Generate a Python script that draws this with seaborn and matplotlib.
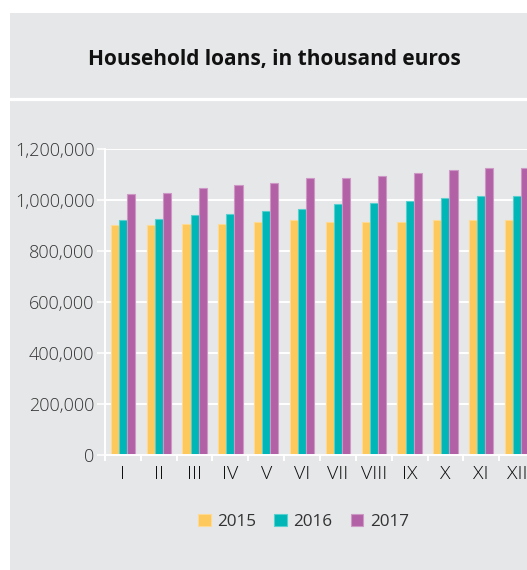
import matplotlib
matplotlib.use("Agg")
import matplotlib.pyplot as plt
import matplotlib.ticker as mticker
from matplotlib.patches import Rectangle
from matplotlib.lines import Line2D
import matplotlib.colors as mcolors
import numpy as np
import pandas as pd
import seaborn as sns

# Monthly household loans (thousand euros)
months = ["I", "II", "III", "IV", "V", "VI", "VII", "VIII", "IX", "X", "XI", "XII"]
years = ["2015", "2016", "2017"]
loans_2015 = [901000, 901000, 907000, 907000, 914000, 920000, 914000, 914000, 914000, 920000, 920000, 920000]
loans_2016 = [920000, 927000, 940000, 945000, 958000, 965000, 984000, 989000, 996000, 1009000, 1015000, 1015000]
loans_2017 = [1022000, 1029000, 1047000, 1060000, 1065000, 1085000, 1085000, 1093000, 1105000, 1118000, 1124000, 1124000]
colors = ["#FDC85C", "#00B6B6", "#B261A6"]
title = "Household loans, in thousand euros"

df = pd.DataFrame({
    "month": months * 3,
    "year": [years[0]] * 12 + [years[1]] * 12 + [years[2]] * 12,
    "value": loans_2015 + loans_2016 + loans_2017,
})

W, H = 527, 570
bg = "#E6E7E9"
sns.set_theme(style="white")
plt.rcParams["font.family"] = ["Open Sans", "DejaVu Sans"]

fig = plt.figure(figsize=(W / 100, H / 100), dpi=100, facecolor="white")

# grey panel with a white separator under the title band
panel = Rectangle((10 / W, 0), 1 - 10 / W, 1 - 13 / H, transform=fig.transFigure,
                  facecolor=bg, edgecolor="none", zorder=-2)
fig.add_artist(panel)
sep = Line2D([10 / W, 1], [1 - 98.5 / H, 1 - 98.5 / H], transform=fig.transFigure,
             color="white", linewidth=2.3, zorder=-1)
fig.add_artist(sep)
fig.text(274.5 / W, 1 - 65 / H, title, ha="center", va="baseline",
         fontsize=15, fontweight="bold", color="#111111")

# the plot area runs slightly past the right edge of the figure
ax_left, ax_right = 105 / W, 535 / W
ax_bottom, ax_top = 1 - 455 / H, 1 - 149 / H
ax = fig.add_axes([ax_left, ax_bottom, ax_right - ax_left, ax_top - ax_bottom])
ax.set_zorder(2)
ax.set_facecolor(bg)

sns.barplot(data=df, x="month", y="value", hue="year", hue_order=years, order=months,
            palette=colors, width=0.68, dodge=True, saturation=1, ax=ax, legend=True,
            linewidth=0.8, edgecolor="white")

for p in ax.patches:
    fc = np.array(mcolors.to_rgb(p.get_facecolor()))
    p.set_edgecolor(tuple(fc + (1 - fc) * 0.35))
    p.set_zorder(3)

ax.set_xlim(-0.5, 11.5)
ax.set_ylim(0, 1200000)
ax.yaxis.set_major_locator(mticker.MultipleLocator(200000))
ax.yaxis.set_major_formatter(mticker.FuncFormatter(lambda v, _: f"{int(v):,}"))
ax.grid(axis="y", color="white", linewidth=1.4, zorder=1)
ax.set_axisbelow(True)
ax.set_xlabel("")
ax.set_ylabel("")

for side in ["top", "right"]:
    ax.spines[side].set_visible(False)
for side in ["left", "bottom"]:
    ax.spines[side].set_color("white")
    ax.spines[side].set_linewidth(1.4)
    ax.spines[side].set_zorder(4)

ax.tick_params(axis="y", which="major", length=5.5, width=1.1, color="white",
               direction="out", left=True, labelsize=13, labelcolor="#333333", pad=2)
ax.set_xticks(np.arange(12))
ax.set_xticks(np.arange(-0.5, 12, 1), minor=True)
ax.tick_params(axis="x", which="major", length=0, labelsize=14, labelcolor="#0D0D0D", pad=7.2)
ax.tick_params(axis="x", which="minor", length=4, width=1.4, color="white", direction="out", bottom=True)
for lab in ax.get_yticklabels() + ax.get_xticklabels():
    lab.set_fontweight("light")

handles, labels = ax.get_legend_handles_labels()
ax.legend(handles, labels, loc="center", bbox_to_anchor=(303.5 / W, 1 - 522 / H),
          bbox_transform=fig.transFigure, ncol=3, frameon=False, fontsize=12.3,
          handlelength=0.72, handleheight=0.72, handletextpad=0.4, columnspacing=1.05,
          labelcolor="#333333")

fig.savefig("out.png", dpi=100, facecolor="white")
